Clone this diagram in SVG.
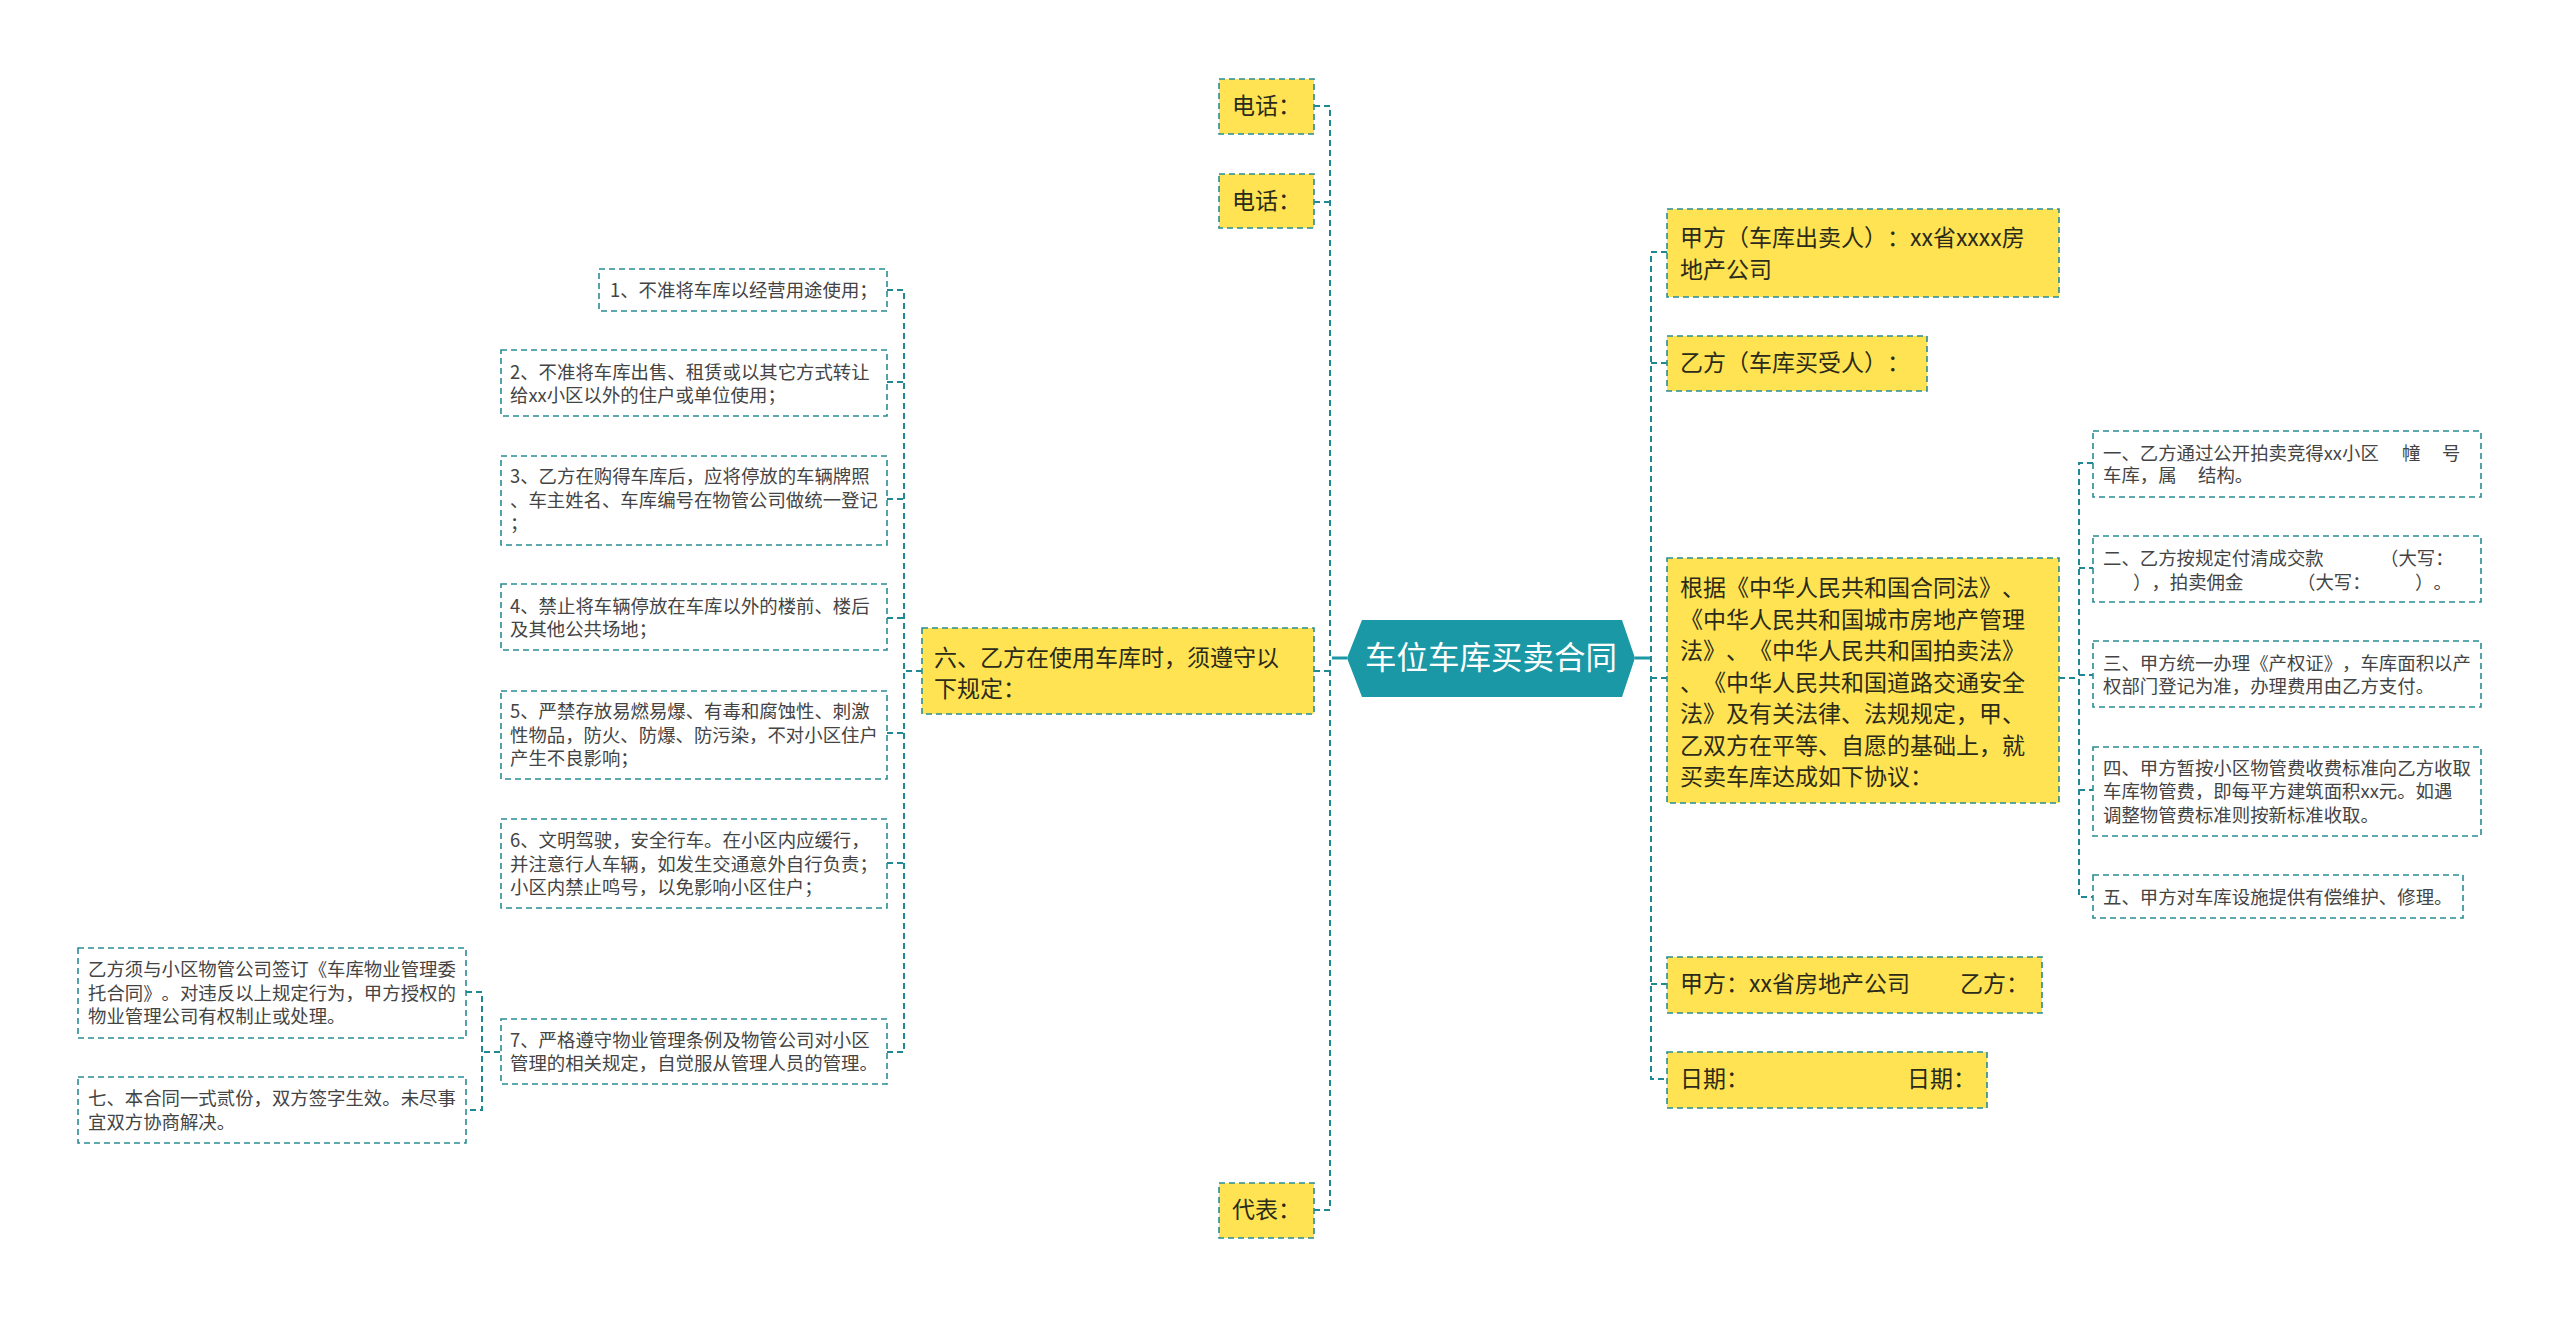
<svg xmlns="http://www.w3.org/2000/svg" width="2560" height="1317" viewBox="0 0 2560 1317">
<style>
text{font-family:"Noto Sans CJK SC","Noto Sans",sans-serif;text-spacing-trim:space-all;}
.y{fill:#ffe352;stroke:#2a8c96;stroke-width:1.6;stroke-dasharray:6 4;}
.w{fill:#ffffff;stroke:#2a8c96;stroke-width:1.6;stroke-dasharray:6 4;}
.t1{font-size:23px;fill:#2b2b1a;}
.t2{font-size:18.4px;fill:#444444;}
.c{fill:none;stroke:#1f8893;stroke-width:2;stroke-dasharray:6 4;}
.s{fill:none;stroke:#1a98a6;stroke-width:3;}
</style>
<rect width="2560" height="1317" fill="#ffffff"/>
<g id="connectors">
<path class="s" d="M1332 658H1347M1635 658H1651"/>
<path class="c" d="M1314 106H1330V1210H1314M1314 202H1330M1314 671H1330"/>
<path class="c" d="M1667 252H1651V1079H1667M1651 363H1667M1651 678H1667M1651 984H1667"/>
<path class="c" d="M2059 678H2079M2093 463H2079V897H2093M2079 568H2093M2079 675H2093M2079 790H2093"/>
<path class="c" d="M922 671H904M887 290H904V1052H887M887 382H904M887 499H904M887 618H904M887 733H904M887 863H904"/>
<path class="c" d="M500 1052H482M466 992H482V1110H466"/>
</g>
<g id="root">
<polygon points="1347,658 1362,620 1622,620 1635,658 1622,697 1362,697" fill="#1a98a6"/>
<text x="1491" y="669" text-anchor="middle" font-size="31.5" fill="#ffffff">车位车库买卖合同</text>
</g>
<g id="tel1"><rect class="y" x="1219" y="79" width="95" height="55"/><text class="t1" x="1232" y="114">电话：</text></g>
<g id="tel2"><rect class="y" x="1219" y="174" width="95" height="54"/><text class="t1" x="1232" y="209">电话：</text></g>
<g id="rep"><rect class="y" x="1219" y="1183" width="95" height="55"/><text class="t1" x="1232" y="1218">代表：</text></g>
<g id="six"><rect class="y" x="922" y="628" width="392" height="86"/>
<text class="t1" x="934"><tspan x="934" y="666">六、乙方在使用车库时，须遵守以</tspan><tspan x="934" y="697">下规定：</tspan></text></g>
<g id="r1"><rect class="w" x="599" y="269" width="288" height="42"/><text class="t2" x="610" y="297">1、不准将车库以经营用途使用；</text></g>
<g id="r2"><rect class="w" x="501" y="350" width="386" height="66"/>
<text class="t2"><tspan x="510" y="378.5">2、不准将车库出售、租赁或以其它方式转让</tspan><tspan x="510" y="402">给xx小区以外的住户或单位使用；</tspan></text></g>
<g id="r3"><rect class="w" x="501" y="456" width="386" height="89"/>
<text class="t2"><tspan x="510" y="483">3、乙方在购得车库后，应将停放的车辆牌照</tspan><tspan x="510" y="506.5">、车主姓名、车库编号在物管公司做统一登记</tspan><tspan x="510" y="530">；</tspan></text></g>
<g id="r4"><rect class="w" x="501" y="584" width="386" height="66"/>
<text class="t2"><tspan x="510" y="612.5">4、禁止将车辆停放在车库以外的楼前、楼后</tspan><tspan x="510" y="636">及其他公共场地；</tspan></text></g>
<g id="r5"><rect class="w" x="501" y="691" width="386" height="88"/>
<text class="t2"><tspan x="510" y="718">5、严禁存放易燃易爆、有毒和腐蚀性、刺激</tspan><tspan x="510" y="741.5">性物品，防火、防爆、防污染，不对小区住户</tspan><tspan x="510" y="765">产生不良影响；</tspan></text></g>
<g id="r6"><rect class="w" x="501" y="819" width="386" height="89"/>
<text class="t2"><tspan x="510" y="847">6、文明驾驶，安全行车。在小区内应缓行，</tspan><tspan x="510" y="870.5">并注意行人车辆，如发生交通意外自行负责；</tspan><tspan x="510" y="894">小区内禁止鸣号，以免影响小区住户；</tspan></text></g>
<g id="r7"><rect class="w" x="501" y="1019" width="386" height="65"/>
<text class="t2"><tspan x="510" y="1046.5">7、严格遵守物业管理条例及物管公司对小区</tspan><tspan x="510" y="1070">管理的相关规定，自觉服从管理人员的管理。</tspan></text></g>
<g id="r7a"><rect class="w" x="78" y="948" width="388" height="90"/>
<text class="t2"><tspan x="88" y="976">乙方须与小区物管公司签订《车库物业管理委</tspan><tspan x="88" y="999.5">托合同》。对违反以上规定行为，甲方授权的</tspan><tspan x="88" y="1023">物业管理公司有权制止或处理。</tspan></text></g>
<g id="r7b"><rect class="w" x="78" y="1077" width="388" height="66"/>
<text class="t2"><tspan x="88" y="1105">七、本合同一式贰份，双方签字生效。未尽事</tspan><tspan x="88" y="1128.5">宜双方协商解决。</tspan></text></g>
<g id="pa"><rect class="y" x="1667" y="209" width="392" height="88"/>
<text class="t1"><tspan x="1680" y="246">甲方（车库出卖人）：xx省xxxx房</tspan><tspan x="1680" y="278">地产公司</tspan></text></g>
<g id="pb"><rect class="y" x="1667" y="336" width="260" height="55"/><text class="t1" x="1680" y="371">乙方（车库买受人）：</text></g>
<g id="basis"><rect class="y" x="1667" y="558" width="392" height="245"/>
<text class="t1"><tspan x="1680" y="596">根据《中华人民共和国合同法》、</tspan><tspan x="1680" y="627.5">《中华人民共和国城市房地产管理</tspan><tspan x="1680" y="659">法》、《中华人民共和国拍卖法》</tspan><tspan x="1680" y="690.5">、《中华人民共和国道路交通安全</tspan><tspan x="1680" y="722">法》及有关法律、法规规定，甲、</tspan><tspan x="1680" y="753.5">乙双方在平等、自愿的基础上，就</tspan><tspan x="1680" y="785">买卖车库达成如下协议：</tspan></text></g>
<g id="i1"><rect class="w" x="2093" y="431" width="388" height="66"/>
<text class="t2"><tspan x="2103" y="459.5">一、乙方通过公开拍卖竞得xx小区</tspan><tspan x="2402" y="459.5">幢</tspan><tspan x="2442" y="459.5">号</tspan><tspan x="2103" y="482">车库，属</tspan><tspan x="2198" y="482">结构。</tspan></text></g>
<g id="i2"><rect class="w" x="2093" y="536" width="388" height="66"/>
<text class="t2"><tspan x="2103" y="564.5">二、乙方按规定付清成交款</tspan><tspan x="2380" y="564.5">（大写：</tspan><tspan x="2133" y="589">），拍卖佣金</tspan><tspan x="2297" y="589">（大写：</tspan><tspan x="2415" y="589">）。</tspan></text></g>
<g id="i3"><rect class="w" x="2093" y="641" width="388" height="66"/>
<text class="t2"><tspan x="2103" y="669.5">三、甲方统一办理《产权证》，车库面积以产</tspan><tspan x="2103" y="693">权部门登记为准，办理费用由乙方支付。</tspan></text></g>
<g id="i4"><rect class="w" x="2093" y="747" width="388" height="89"/>
<text class="t2"><tspan x="2103" y="774.5">四、甲方暂按小区物管费收费标准向乙方收取</tspan><tspan x="2103" y="798">车库物管费，即每平方建筑面积xx元。如遇</tspan><tspan x="2103" y="821.5">调整物管费标准则按新标准收取。</tspan></text></g>
<g id="i5"><rect class="w" x="2093" y="875" width="370" height="43"/><text class="t2" x="2103" y="903.5">五、甲方对车库设施提供有偿维护、修理。</text></g>
<g id="sign"><rect class="y" x="1667" y="957" width="375" height="56"/>
<text class="t1"><tspan x="1680" y="992">甲方：xx省房地产公司</tspan><tspan x="1960" y="992">乙方：</tspan></text></g>
<g id="date"><rect class="y" x="1667" y="1052" width="320" height="56"/>
<text class="t1"><tspan x="1680" y="1087">日期：</tspan><tspan x="1907" y="1087">日期：</tspan></text></g>
</svg>
